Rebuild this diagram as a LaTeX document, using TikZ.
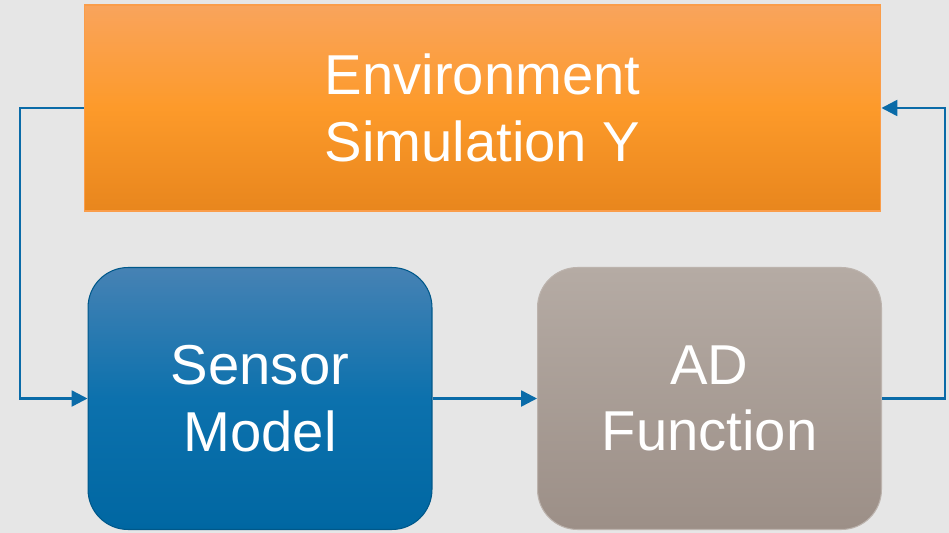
\documentclass[tikz,border=0pt]{standalone}
\usepackage{fontspec}
\setmainfont{Liberation Sans}
\usepackage{tikz}
\usetikzlibrary{arrows.meta,positioning,calc}

\definecolor{bgGray}{HTML}{E6E6E6}
\definecolor{envTop}{HTML}{F9A45C}
\definecolor{envMid}{HTML}{FD9A2A}
\definecolor{envBot}{HTML}{E8861D}
\definecolor{sensTop}{HTML}{4682B4}
\definecolor{sensMid}{HTML}{0C71AD}
\definecolor{sensBot}{HTML}{0067A2}
\definecolor{adTop}{HTML}{B5ABA4}
\definecolor{adBot}{HTML}{9C8F87}
\definecolor{linkBlue}{HTML}{0A6BA8}

\tikzset{
    boxtext/.style={text=white, align=center, font=\fontsize{32}{38}\selectfont},
    envbox/.style={boxtext, draw=envTop!80!orange, line width=0.6pt,
        top color=envTop, bottom color=envBot, middle color=envMid,
        minimum width=15.94cm, minimum height=4.12cm},
    modbox/.style={boxtext, rounded corners=0.8cm, line width=0.6pt,
        minimum width=6.88cm, minimum height=5.24cm},
    link/.style={linkBlue, line width=1.4pt, -{Triangle[length=9pt, width=9pt]}}
}

\begin{document}
\begin{tikzpicture}[x=0.02cm, y=-0.02cm]
    % background
    \fill[bgGray] (0, 0) rectangle (949, 533);
    \useasboundingbox (0, 0) rectangle (949, 533);

    % Blocks
    \node[envbox] (env) at (482.5, 108) {Environment\\Simulation Y};
    \node[modbox, draw=sensBot!85!black, top color=sensTop, bottom color=sensBot, middle color=sensMid] (sensor) at (260, 398.5) {Sensor\\Model};
    \node[modbox, draw=adTop!90!white, top color=adTop, bottom color=adBot] (ad) at (709.5, 398.5) {AD\\Function};

    % Loop
    \coordinate (leftturn) at (20, 108);
    \coordinate (rightturn) at (945, 398.5);
    \draw[link] (env.west) -- (leftturn) |- (sensor.west);
    \draw[link] (sensor.east) -- (ad.west);
    \draw[link] (ad.east) -- (rightturn) |- (env.east);
\end{tikzpicture}
\end{document}
